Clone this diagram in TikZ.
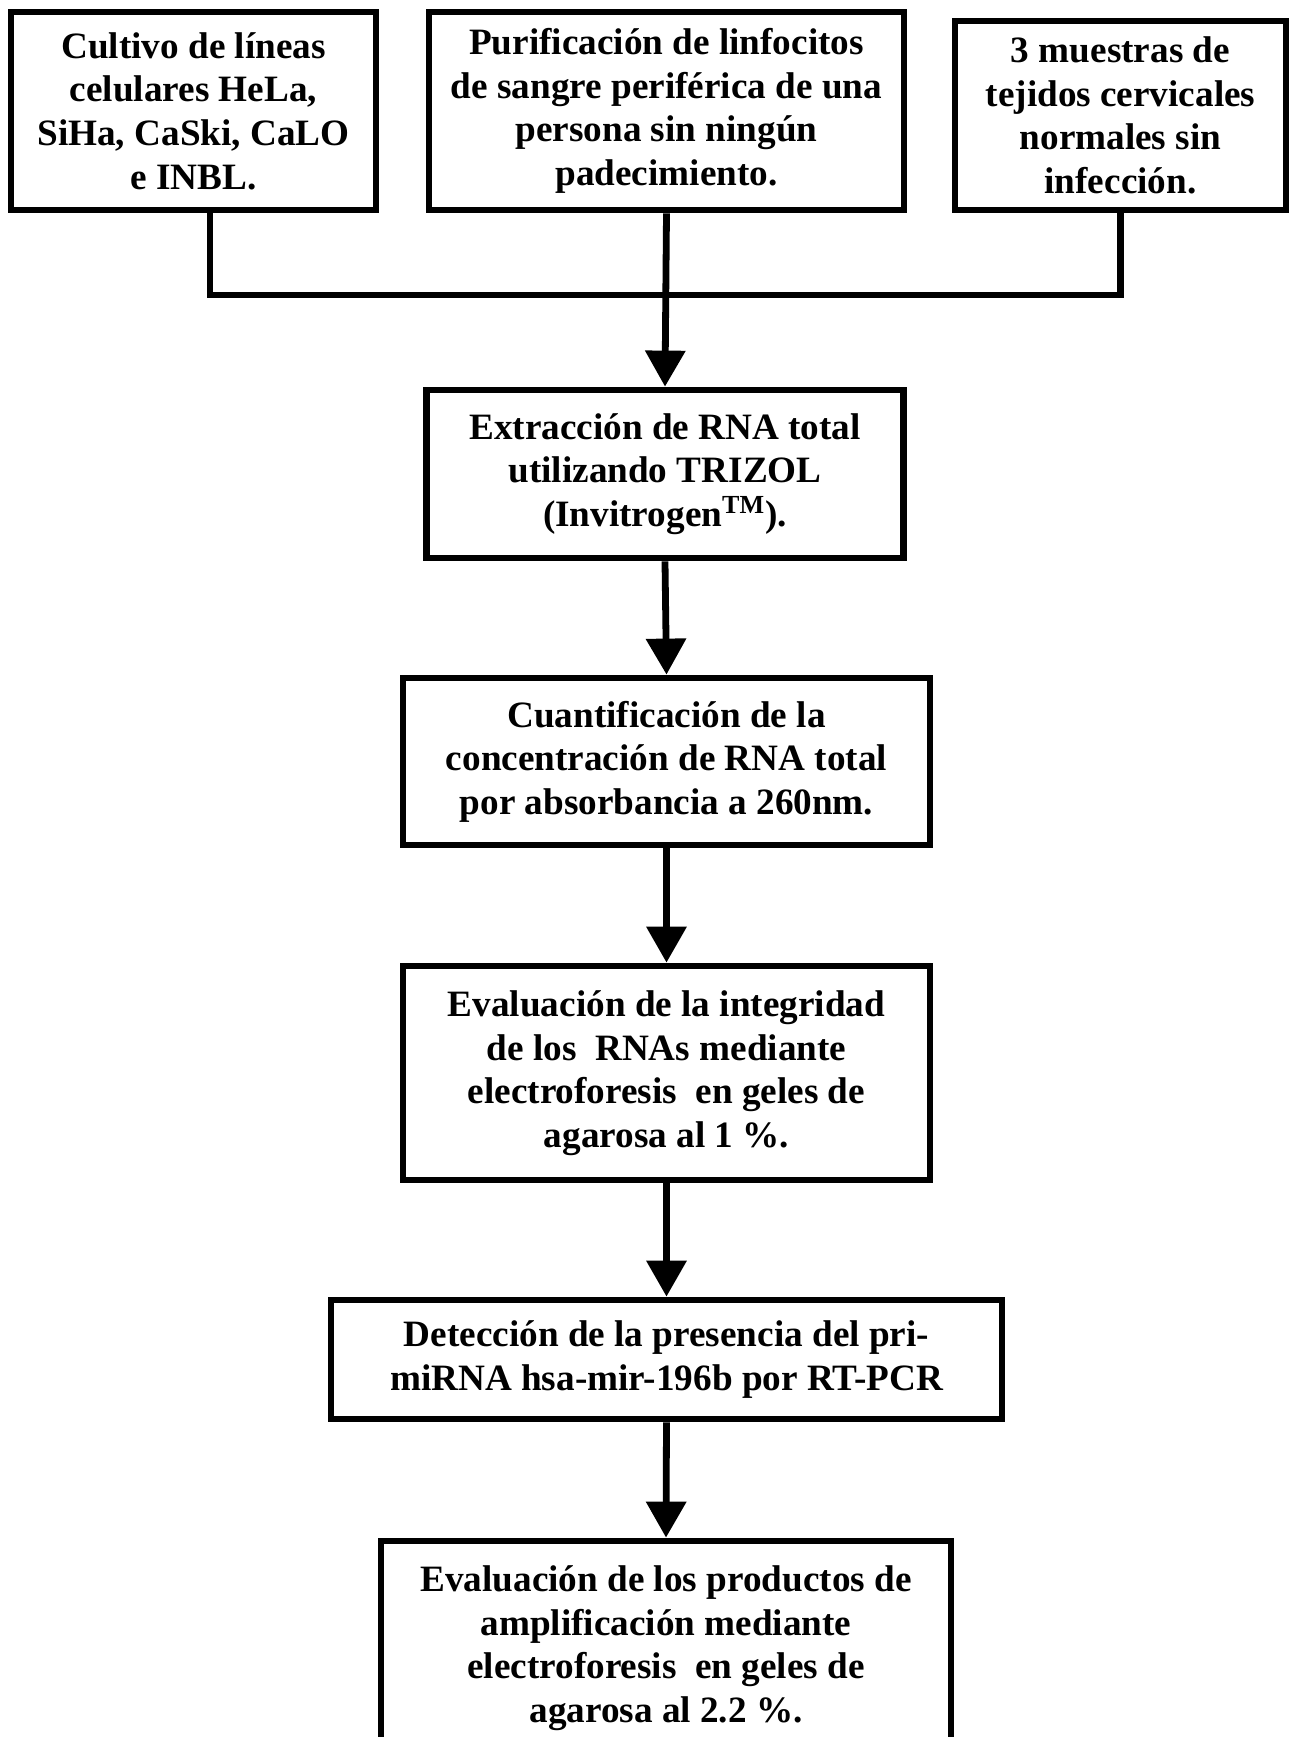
\documentclass[tikz,border=0pt]{standalone}
\usepackage{fontspec}
\setmainfont{Liberation Serif}
\usetikzlibrary{arrows.meta}
\tikzset{
    % Box styles
    stepbox/.style={rectangle, draw, line width=3.4pt, inner sep=0pt, align=center,
                    font=\fontsize{18.6pt}{21.8pt}\selectfont\bfseries},
    % Connector styles
    link/.style={line width=3.4pt},
    arrow/.style={link, -{Triangle[length=18pt, width=19.5pt]}},
}

\begin{document}
\begin{tikzpicture}[x=0.5pt, y=-0.5pt]
    \useasboundingbox (0,0) rectangle (1293,1737);
    \clip (0,0) rectangle (1293,1737);

    % Samples
    \node[stepbox, minimum width=182.5pt, minimum height=99pt] (cult) at (193.5,111)
        {Cultivo de líneas\\celulares HeLa,\\SiHa, CaSki, CaLO\\e INBL.};
    \node[stepbox, minimum width=237.5pt, minimum height=99pt] (puri) at (666.5,111)
        {Purificación de linfocitos\\de sangre periférica de una\\persona sin ningún\\padecimiento.};
    \node[stepbox, minimum width=165.5pt, minimum height=94.5pt] (tejido) at (1120.5,115.5)
        {3 muestras de\\tejidos cervicales\\normales sin\\infección.};

    % Processing steps
    \node[stepbox, minimum width=238.5pt, minimum height=84pt] (extr) at (665,474)
        {Extracción de RNA total\\utilizando TRIZOL\\(Invitrogen\textsuperscript{TM}).};
    \node[stepbox, minimum width=263.5pt, minimum height=83.5pt] (cuant) at (666.5,761.5)
        {Cuantificación de la\\concentración de RNA total\\por absorbancia a 260nm.};
    \node[stepbox, minimum width=263.5pt, minimum height=107pt] (integ) at (666.5,1073)
        {Evaluación de la integridad\\de los~ RNAs mediante\\electroforesis~ en geles de\\agarosa al 1 \%.};
    \node[stepbox, minimum width=335.5pt, minimum height=59.5pt] (detec) at (666.5,1359.5)
        {Detección de la presencia del pri-\\miRNA hsa-mir-196b por RT-PCR};
    \node[stepbox, minimum width=285pt, minimum height=107pt] (prod) at (666,1648)
        {Evaluación de los productos de\\amplificación mediante\\electroforesis~ en geles de\\agarosa al 2.2 \%.};

    % Joining the samples
    \coordinate (jl) at (210,295);
    \coordinate (jr) at (1120.5,295);
    \draw[link] (jl |- cult.south) -- (jl) -- (jr) -- (tejido.south);

    % Flow arrows
    \draw[arrow] (puri.south) -- (extr.north);
    \draw[arrow] (extr.south) -- (cuant.north);
    \draw[arrow] (cuant.south) -- (integ.north);
    \draw[arrow] (integ.south) -- (detec.north);
    \draw[arrow] (detec.south) -- (prod.north);
\end{tikzpicture}
\end{document}
